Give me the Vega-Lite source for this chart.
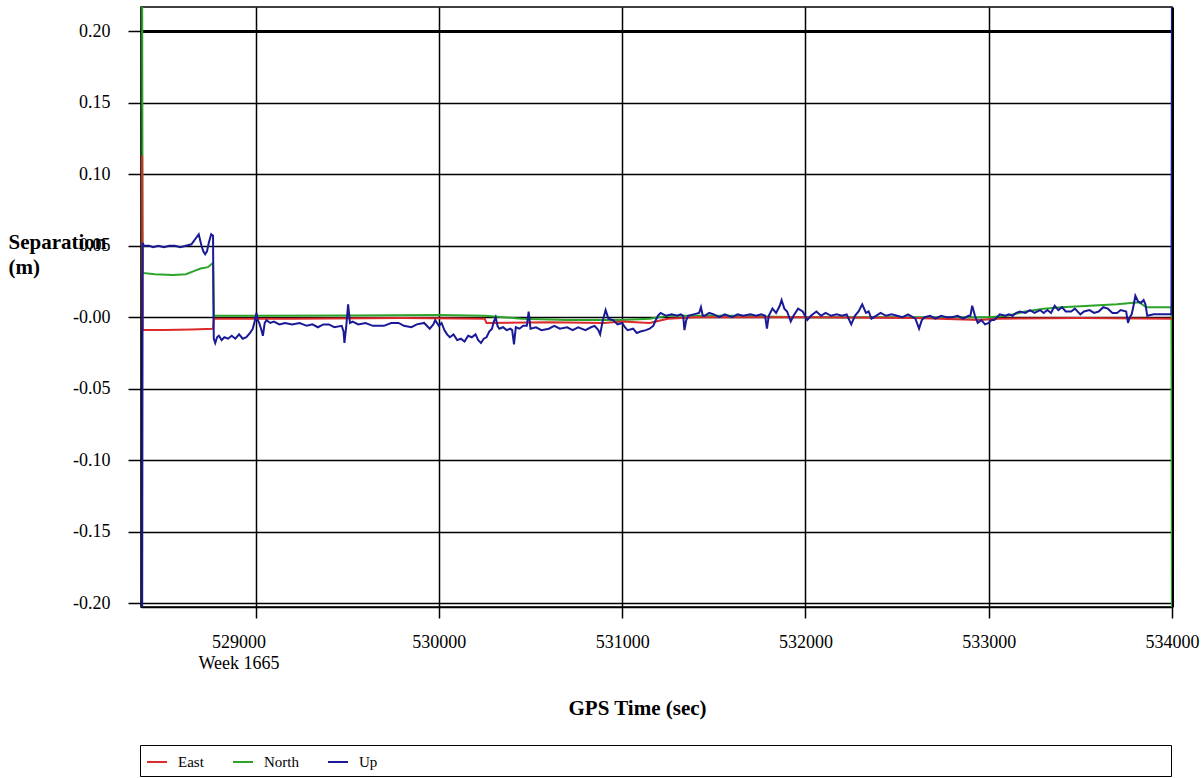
{
 "$schema": "https://vega.github.io/schema/vega-lite/v6.json",
 "width": 1031, "height": 600,
 "autosize": {"type": "none"},
 "padding": {"left": 141, "top": 7, "right": 30, "bottom": 171},
 "background": "white",
 "config": {"view": {"stroke": "black", "strokeWidth": 1.5}, "font": "Liberation Serif", "axis": {"labelFont": "Liberation Serif", "titleFont": "Liberation Serif"}},
 "data": {"values": [
  {"t":528381,"s":"North","v":0.25},{"t":528384,"s":"North","v":0.031},{"t":528450,"s":"North","v":0.030},{"t":528550,"s":"North","v":0.0295},{"t":528620,"s":"North","v":0.030},{"t":528660,"s":"North","v":0.032},{"t":528700,"s":"North","v":0.034},{"t":528740,"s":"North","v":0.035},{"t":528768,"s":"North","v":0.038},{"t":528772,"s":"North","v":0.001},{"t":529500,"s":"North","v":0.0012},{"t":530000,"s":"North","v":0.0015},{"t":530250,"s":"North","v":0.001},{"t":530450,"s":"North","v":-0.001},{"t":530700,"s":"North","v":-0.002},{"t":531000,"s":"North","v":-0.002},{"t":531150,"s":"North","v":-0.001},{"t":531250,"s":"North","v":0.001},{"t":531600,"s":"North","v":0.001},{"t":532000,"s":"North","v":0.0},{"t":532600,"s":"North","v":0.0},{"t":533000,"s":"North","v":0.0},{"t":533100,"s":"North","v":0.001},{"t":533200,"s":"North","v":0.004},{"t":533300,"s":"North","v":0.006},{"t":533400,"s":"North","v":0.007},{"t":533550,"s":"North","v":0.008},{"t":533700,"s":"North","v":0.009},{"t":533820,"s":"North","v":0.0105},{"t":533860,"s":"North","v":0.007},{"t":533997,"s":"North","v":0.007},{"t":534000,"s":"North","v":-0.25},
  {"t":528381,"s":"East","v":0.113},{"t":528384,"s":"East","v":-0.009},{"t":528500,"s":"East","v":-0.009},{"t":528650,"s":"East","v":-0.0085},{"t":528768,"s":"East","v":-0.008},{"t":528772,"s":"East","v":-0.001},{"t":529200,"s":"East","v":-0.001},{"t":529800,"s":"East","v":-0.0005},{"t":530250,"s":"East","v":-0.001},{"t":530260,"s":"East","v":-0.004},{"t":530600,"s":"East","v":-0.0035},{"t":530900,"s":"East","v":-0.004},{"t":531000,"s":"East","v":-0.003},{"t":531150,"s":"East","v":-0.004},{"t":531250,"s":"East","v":-0.001},{"t":531400,"s":"East","v":0.0},{"t":532000,"s":"East","v":0.0},{"t":532600,"s":"East","v":-0.0005},{"t":532950,"s":"East","v":-0.002},{"t":533050,"s":"East","v":-0.001},{"t":533500,"s":"East","v":-0.0005},{"t":534000,"s":"East","v":-0.001},
  {"t":528381,"s":"Up","v":-0.25},{"t":528384,"s":"Up","v":0.052},{"t":528390,"s":"Up","v":0.050},{"t":528420,"s":"Up","v":0.050},{"t":528440,"s":"Up","v":0.049},{"t":528470,"s":"Up","v":0.050},{"t":528500,"s":"Up","v":0.049},{"t":528530,"s":"Up","v":0.050},{"t":528560,"s":"Up","v":0.050},{"t":528590,"s":"Up","v":0.049},{"t":528620,"s":"Up","v":0.050},{"t":528650,"s":"Up","v":0.051},{"t":528690,"s":"Up","v":0.058},{"t":528705,"s":"Up","v":0.050},{"t":528715,"s":"Up","v":0.046},{"t":528725,"s":"Up","v":0.044},{"t":528735,"s":"Up","v":0.046},{"t":528745,"s":"Up","v":0.052},{"t":528758,"s":"Up","v":0.058},{"t":528768,"s":"Up","v":0.057},
  {"t":528772,"s":"Up","v":-0.015},{"t":528780,"s":"Up","v":-0.018},{"t":528790,"s":"Up","v":-0.014},{"t":528800,"s":"Up","v":-0.013},{"t":528815,"s":"Up","v":-0.016},{"t":528830,"s":"Up","v":-0.014},{"t":528850,"s":"Up","v":-0.015},{"t":528870,"s":"Up","v":-0.013},{"t":528890,"s":"Up","v":-0.015},{"t":528910,"s":"Up","v":-0.012},{"t":528930,"s":"Up","v":-0.015},{"t":528950,"s":"Up","v":-0.014},{"t":528970,"s":"Up","v":-0.011},{"t":528985,"s":"Up","v":-0.008},{"t":528995,"s":"Up","v":-0.003},{"t":529005,"s":"Up","v":0.003},{"t":529012,"s":"Up","v":-0.002},{"t":529020,"s":"Up","v":-0.004},{"t":529030,"s":"Up","v":-0.008},{"t":529040,"s":"Up","v":-0.013},{"t":529050,"s":"Up","v":-0.004},{"t":529060,"s":"Up","v":-0.002},{"t":529080,"s":"Up","v":-0.004},{"t":529100,"s":"Up","v":-0.003},{"t":529130,"s":"Up","v":-0.005},{"t":529160,"s":"Up","v":-0.004},{"t":529200,"s":"Up","v":-0.005},{"t":529240,"s":"Up","v":-0.004},{"t":529280,"s":"Up","v":-0.006},{"t":529310,"s":"Up","v":-0.005},{"t":529340,"s":"Up","v":-0.007},{"t":529370,"s":"Up","v":-0.005},{"t":529400,"s":"Up","v":-0.005},{"t":529430,"s":"Up","v":-0.007},{"t":529470,"s":"Up","v":-0.006},{"t":529480,"s":"Up","v":-0.010},{"t":529485,"s":"Up","v":-0.018},{"t":529495,"s":"Up","v":-0.006},{"t":529505,"s":"Up","v":0.009},{"t":529515,"s":"Up","v":-0.004},{"t":529530,"s":"Up","v":-0.003},{"t":529560,"s":"Up","v":-0.005},{"t":529600,"s":"Up","v":-0.004},{"t":529640,"s":"Up","v":-0.006},{"t":529700,"s":"Up","v":-0.006},{"t":529740,"s":"Up","v":-0.004},{"t":529780,"s":"Up","v":-0.004},{"t":529810,"s":"Up","v":-0.006},{"t":529850,"s":"Up","v":-0.007},{"t":529880,"s":"Up","v":-0.005},{"t":529920,"s":"Up","v":-0.004},{"t":529950,"s":"Up","v":-0.008},{"t":529970,"s":"Up","v":-0.005},{"t":529980,"s":"Up","v":-0.002},
  {"t":530000,"s":"Up","v":-0.006},{"t":530015,"s":"Up","v":-0.004},{"t":530030,"s":"Up","v":-0.009},{"t":530045,"s":"Up","v":-0.012},{"t":530060,"s":"Up","v":-0.014},{"t":530080,"s":"Up","v":-0.012},{"t":530100,"s":"Up","v":-0.016},{"t":530120,"s":"Up","v":-0.015},{"t":530140,"s":"Up","v":-0.017},{"t":530160,"s":"Up","v":-0.013},{"t":530180,"s":"Up","v":-0.014},{"t":530200,"s":"Up","v":-0.012},{"t":530215,"s":"Up","v":-0.016},{"t":530230,"s":"Up","v":-0.018},{"t":530245,"s":"Up","v":-0.015},{"t":530260,"s":"Up","v":-0.014},{"t":530275,"s":"Up","v":-0.010},{"t":530290,"s":"Up","v":-0.008},{"t":530300,"s":"Up","v":-0.003},{"t":530310,"s":"Up","v":0.0},{"t":530320,"s":"Up","v":-0.006},{"t":530330,"s":"Up","v":-0.008},{"t":530350,"s":"Up","v":-0.007},{"t":530370,"s":"Up","v":-0.009},{"t":530390,"s":"Up","v":-0.008},{"t":530400,"s":"Up","v":-0.009},{"t":530410,"s":"Up","v":-0.019},{"t":530420,"s":"Up","v":-0.007},{"t":530440,"s":"Up","v":-0.008},{"t":530460,"s":"Up","v":-0.006},{"t":530480,"s":"Up","v":-0.006},{"t":530490,"s":"Up","v":0.004},{"t":530500,"s":"Up","v":-0.008},{"t":530530,"s":"Up","v":-0.007},{"t":530560,"s":"Up","v":-0.009},{"t":530600,"s":"Up","v":-0.008},{"t":530630,"s":"Up","v":-0.006},{"t":530660,"s":"Up","v":-0.008},{"t":530700,"s":"Up","v":-0.007},{"t":530730,"s":"Up","v":-0.009},{"t":530760,"s":"Up","v":-0.007},{"t":530800,"s":"Up","v":-0.009},{"t":530830,"s":"Up","v":-0.007},{"t":530850,"s":"Up","v":-0.006},{"t":530870,"s":"Up","v":-0.009},{"t":530880,"s":"Up","v":-0.012},{"t":530895,"s":"Up","v":-0.002},{"t":530910,"s":"Up","v":0.005},{"t":530925,"s":"Up","v":-0.001},{"t":530950,"s":"Up","v":-0.002},{"t":530975,"s":"Up","v":-0.005},
  {"t":531000,"s":"Up","v":-0.004},{"t":531015,"s":"Up","v":-0.007},{"t":531030,"s":"Up","v":-0.009},{"t":531060,"s":"Up","v":-0.008},{"t":531080,"s":"Up","v":-0.011},{"t":531100,"s":"Up","v":-0.010},{"t":531130,"s":"Up","v":-0.009},{"t":531150,"s":"Up","v":-0.008},{"t":531170,"s":"Up","v":-0.006},{"t":531180,"s":"Up","v":-0.003},{"t":531195,"s":"Up","v":0.001},{"t":531210,"s":"Up","v":0.003},{"t":531240,"s":"Up","v":0.001},{"t":531270,"s":"Up","v":0.002},{"t":531300,"s":"Up","v":0.001},{"t":531320,"s":"Up","v":0.002},{"t":531333,"s":"Up","v":0.001},{"t":531340,"s":"Up","v":-0.009},{"t":531350,"s":"Up","v":-0.002},{"t":531360,"s":"Up","v":0.001},{"t":531390,"s":"Up","v":0.002},{"t":531420,"s":"Up","v":0.003},{"t":531430,"s":"Up","v":0.007},{"t":531440,"s":"Up","v":0.001},{"t":531450,"s":"Up","v":0.001},{"t":531475,"s":"Up","v":0.003},{"t":531500,"s":"Up","v":0.002},{"t":531530,"s":"Up","v":0.0},{"t":531560,"s":"Up","v":0.002},{"t":531600,"s":"Up","v":0.0},{"t":531630,"s":"Up","v":0.002},{"t":531660,"s":"Up","v":0.001},{"t":531700,"s":"Up","v":0.002},{"t":531730,"s":"Up","v":0.001},{"t":531760,"s":"Up","v":0.002},{"t":531780,"s":"Up","v":0.001},{"t":531790,"s":"Up","v":-0.008},{"t":531800,"s":"Up","v":0.001},{"t":531820,"s":"Up","v":0.006},{"t":531840,"s":"Up","v":0.003},{"t":531860,"s":"Up","v":0.008},{"t":531870,"s":"Up","v":0.012},{"t":531885,"s":"Up","v":0.006},{"t":531900,"s":"Up","v":0.004},{"t":531920,"s":"Up","v":-0.003},{"t":531935,"s":"Up","v":0.001},{"t":531960,"s":"Up","v":0.006},{"t":531985,"s":"Up","v":0.004},
  {"t":532010,"s":"Up","v":-0.002},{"t":532030,"s":"Up","v":0.001},{"t":532060,"s":"Up","v":0.004},{"t":532085,"s":"Up","v":0.001},{"t":532110,"s":"Up","v":0.003},{"t":532140,"s":"Up","v":0.001},{"t":532170,"s":"Up","v":0.002},{"t":532200,"s":"Up","v":0.001},{"t":532225,"s":"Up","v":0.002},{"t":532250,"s":"Up","v":-0.005},{"t":532270,"s":"Up","v":0.001},{"t":532290,"s":"Up","v":0.004},{"t":532310,"s":"Up","v":0.009},{"t":532320,"s":"Up","v":0.006},{"t":532330,"s":"Up","v":0.003},{"t":532345,"s":"Up","v":0.004},{"t":532360,"s":"Up","v":-0.001},{"t":532385,"s":"Up","v":0.001},{"t":532410,"s":"Up","v":0.003},{"t":532440,"s":"Up","v":0.001},{"t":532470,"s":"Up","v":0.002},{"t":532500,"s":"Up","v":0.001},{"t":532530,"s":"Up","v":0.0},{"t":532560,"s":"Up","v":0.002},{"t":532600,"s":"Up","v":-0.001},{"t":532620,"s":"Up","v":-0.008},{"t":532635,"s":"Up","v":-0.002},{"t":532650,"s":"Up","v":0.0},{"t":532680,"s":"Up","v":0.001},{"t":532710,"s":"Up","v":-0.001},{"t":532740,"s":"Up","v":0.001},{"t":532770,"s":"Up","v":0.0},{"t":532800,"s":"Up","v":0.0},{"t":532830,"s":"Up","v":0.001},{"t":532860,"s":"Up","v":-0.001},{"t":532890,"s":"Up","v":0.001},{"t":532900,"s":"Up","v":0.001},{"t":532910,"s":"Up","v":0.008},{"t":532925,"s":"Up","v":0.001},{"t":532940,"s":"Up","v":-0.004},{"t":532960,"s":"Up","v":-0.002},{"t":532980,"s":"Up","v":-0.005},
  {"t":533000,"s":"Up","v":-0.004},{"t":533015,"s":"Up","v":-0.002},{"t":533030,"s":"Up","v":-0.002},{"t":533060,"s":"Up","v":0.002},{"t":533090,"s":"Up","v":0.001},{"t":533110,"s":"Up","v":0.002},{"t":533130,"s":"Up","v":0.001},{"t":533150,"s":"Up","v":0.003},{"t":533170,"s":"Up","v":0.004},{"t":533200,"s":"Up","v":0.003},{"t":533225,"s":"Up","v":0.005},{"t":533250,"s":"Up","v":0.003},{"t":533280,"s":"Up","v":0.005},{"t":533300,"s":"Up","v":0.003},{"t":533320,"s":"Up","v":0.005},{"t":533340,"s":"Up","v":0.003},{"t":533360,"s":"Up","v":0.008},{"t":533380,"s":"Up","v":0.005},{"t":533400,"s":"Up","v":0.007},{"t":533420,"s":"Up","v":0.004},{"t":533450,"s":"Up","v":0.004},{"t":533470,"s":"Up","v":0.006},{"t":533500,"s":"Up","v":0.002},{"t":533520,"s":"Up","v":0.004},{"t":533550,"s":"Up","v":0.005},{"t":533575,"s":"Up","v":0.003},{"t":533600,"s":"Up","v":0.004},{"t":533625,"s":"Up","v":0.007},{"t":533650,"s":"Up","v":0.006},{"t":533675,"s":"Up","v":0.003},{"t":533700,"s":"Up","v":0.003},{"t":533720,"s":"Up","v":0.005},{"t":533750,"s":"Up","v":0.004},{"t":533760,"s":"Up","v":-0.004},{"t":533770,"s":"Up","v":0.0},{"t":533780,"s":"Up","v":0.002},{"t":533790,"s":"Up","v":0.008},{"t":533800,"s":"Up","v":0.015},{"t":533815,"s":"Up","v":0.011},{"t":533830,"s":"Up","v":0.010},{"t":533845,"s":"Up","v":0.012},{"t":533855,"s":"Up","v":0.009},{"t":533865,"s":"Up","v":0.001},{"t":533900,"s":"Up","v":0.002},{"t":533950,"s":"Up","v":0.002},{"t":533997,"s":"Up","v":0.002},{"t":534000,"s":"Up","v":0.25}
 ]},
 "encoding": {
  "x": {"field": "t", "type": "quantitative",
   "scale": {"domain": [528375, 534000], "nice": false, "zero": false},
   "axis": {"values": [529000, 530000, 531000, 532000, 533000, 534000],
    "labelExpr": "datum.value == 529000 ? ['529000', 'Week 1665'] : format(datum.value, 'd')",
    "labelFlush": false, "labelOverlap": false, "labelFontSize": 18, "labelColor": "black", "labelFont": "Liberation Serif",
    "labelBaseline": "top", "labelPadding": 15, "labelLineHeight": 21,
    "labelOffset": {"condition": {"test": "datum.value == 529000", "value": -17}, "value": 0},
    "tickSize": 11, "tickColor": "black", "tickWidth": 1.5,
    "domainColor": "black", "domainWidth": 1.5,
    "grid": true, "gridColor": "black", "gridOpacity": 1,
    "gridWidth": {"condition": {"test": "datum.value == 534000", "value": 3}, "value": 1.5},
    "title": "GPS Time (sec)", "titleFont": "Liberation Serif", "titleFontSize": 21, "titleFontWeight": "bold", "titleColor": "black",
    "titleX": 496, "titleY": 107, "titleAlign": "center", "titleBaseline": "alphabetic"}},
  "y": {"field": "v", "type": "quantitative",
   "scale": {"domain": [-0.2025, 0.2168], "nice": false, "zero": false},
   "axis": {"values": [-0.2, -0.15, -0.1, -0.05, 0, 0.05, 0.1, 0.15, 0.2],
    "labelExpr": "datum.value == 0 ? '-0.00' : replace(format(datum.value, '.2f'), '\u2212', '-')",
    "labelOverlap": false, "labelFontSize": 18, "labelColor": "black", "labelFont": "Liberation Serif", "labelPadding": 18,
    "tickSize": 13, "tickColor": "black", "tickWidth": 1.5,
    "domainColor": "black", "domainWidth": 1.5,
    "grid": true, "gridColor": "black", "gridOpacity": 1,
    "gridWidth": {"condition": {"test": "datum.value == 0.2", "value": 3}, "value": 1.5},
    "title": ["Separation", "(m)"], "titleAngle": 0, "titleAlign": "left", "titleBaseline": "alphabetic",
    "titleX": -133, "titleY": 241, "titleFont": "Liberation Serif", "titleFontSize": 21, "titleFontWeight": "bold",
    "titleColor": "black", "titleLineHeight": 25}},
  "color": {"field": "s", "type": "nominal",
   "scale": {"domain": ["East", "North", "Up"], "range": ["#dc2a2a", "#2aa52a", "#1a1a96"]},
   "legend": {"title": null, "orient": "none", "legendX": -1, "legendY": 738, "direction": "horizontal",
    "strokeColor": "black", "fillColor": "white", "padding": 6,
    "symbolType": "stroke", "symbolSize": 400, "symbolStrokeWidth": 2,
    "labelFontSize": 15, "labelFont": "Liberation Serif", "labelColor": "black", "labelOffset": 10,
    "columnPadding": 25, "labelLimit": 1000,
    "labelExpr": "datum.label == 'Up' ? pad('Up', 212, '\u00a0', 'right') + '\u200b' : datum.label"}}
 },
 "layer": [
  {"transform": [{"filter": "datum.s == 'North'"}], "mark": {"type": "line", "strokeWidth": 2, "clip": true}},
  {"transform": [{"filter": "datum.s != 'North'"}], "mark": {"type": "line", "strokeWidth": 2, "clip": true}}
 ]
}
